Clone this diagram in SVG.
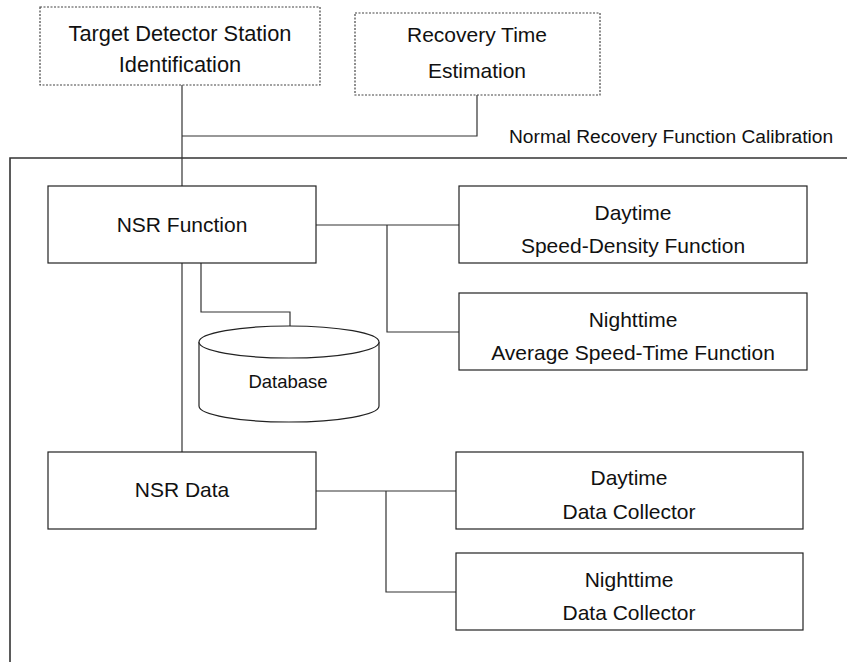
<svg xmlns="http://www.w3.org/2000/svg" width="847" height="662" viewBox="0 0 847 662">
<style>
  .box{fill:#fff;stroke:#222;stroke-width:1.2}
  .dot{fill:#fff;stroke:#444;stroke-width:1.2;stroke-dasharray:2 1.5}
  .ln{fill:none;stroke:#333;stroke-width:1.2}
  .frame{fill:none;stroke:#333;stroke-width:1.6}
  text{font-family:"Liberation Sans",Arial,sans-serif;font-size:21px;fill:#111;text-anchor:middle}
  .big{font-size:21.8px}
  .sm{font-size:19.2px;text-anchor:start}
  .db{font-size:18.5px}
</style>
<rect width="847" height="662" fill="#fff"/>
<g id="frame">
  <path class="frame" d="M847,158 H10 V662"/>
  <text class="sm" x="509" y="143">Normal Recovery Function Calibration</text>
</g>
<g id="connectors">
  <path class="ln" d="M182,85 V186"/>
  <path class="ln" d="M477,86 V136 H182"/>
  <path class="ln" d="M182,263 V452"/>
  <path class="ln" d="M201,263 V312 H290 V326"/>
  <path class="ln" d="M316,225 H459"/>
  <path class="ln" d="M387,225 V332 H459"/>
  <path class="ln" d="M316,491 H456"/>
  <path class="ln" d="M386,491 V592 H456"/>
</g>
<g id="target-detector">
  <rect class="dot" x="40" y="7" width="280" height="78"/>
  <text class="big" x="180" y="41">Target Detector Station</text>
  <text class="big" x="180" y="72">Identification</text>
</g>
<g id="recovery-time">
  <rect class="dot" x="355" y="13" width="245" height="82"/>
  <text x="477" y="42">Recovery Time</text>
  <text x="477" y="78">Estimation</text>
</g>
<g id="nsr-function">
  <rect class="box" x="48" y="186" width="268" height="77"/>
  <text x="182" y="232">NSR Function</text>
</g>
<g id="database">
  <path class="box" d="M199,342 V406 A90,16 0 0 0 379,406 V342"/>
  <ellipse class="box" cx="289" cy="342" rx="90" ry="16"/>
  <text class="db" x="288" y="388">Database</text>
</g>
<g id="daytime-speed-density">
  <rect class="box" x="459" y="186" width="348" height="77"/>
  <text x="633" y="220">Daytime</text>
  <text x="633" y="253">Speed-Density Function</text>
</g>
<g id="nighttime-average-speed">
  <rect class="box" x="459" y="293" width="348" height="77"/>
  <text x="633" y="327">Nighttime</text>
  <text x="633" y="360">Average Speed-Time Function</text>
</g>
<g id="nsr-data">
  <rect class="box" x="48" y="452" width="268" height="77"/>
  <text x="182" y="497">NSR Data</text>
</g>
<g id="daytime-collector">
  <rect class="box" x="456" y="452" width="347" height="77"/>
  <text x="629" y="485">Daytime</text>
  <text x="629" y="519">Data Collector</text>
</g>
<g id="nighttime-collector">
  <rect class="box" x="456" y="553" width="347" height="77"/>
  <text x="629" y="587">Nighttime</text>
  <text x="629" y="620">Data Collector</text>
</g>
</svg>
